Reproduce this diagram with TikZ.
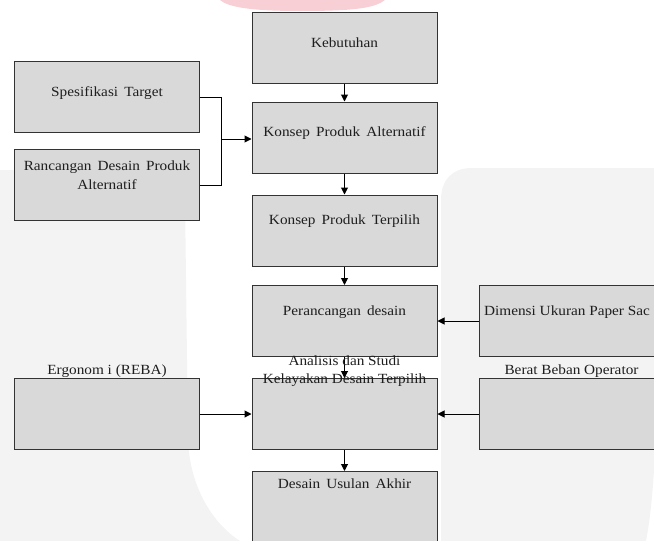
\documentclass[tikz,border=0pt]{standalone}
\usepackage{fontspec}
\setmainfont[FakeStretch=1.09]{Liberation Serif}
\newfontfamily\boxfont[FakeStretch=1.09,WordSpace=1.6]{Liberation Serif}
\usetikzlibrary{arrows.meta}
\definecolor{boxfill}{HTML}{D9D9D9}
\definecolor{boxline}{HTML}{333333}
\definecolor{wmgray}{HTML}{F3F3F3}
\definecolor{wmpink}{HTML}{F8CFD4}
\definecolor{txtcol}{HTML}{1E1E1E}
\begin{document}
\begin{tikzpicture}[x=1pt,y=-1pt,
  box/.style={draw=boxline,fill=boxfill,line width=1pt,minimum width=185pt,minimum height=71pt,inner sep=0pt},
  txt/.style={text=txtcol,font=\fontsize{14pt}{18.3pt}\selectfont,inner sep=0pt,anchor=base,align=center},
  btxt/.style={txt,font=\fontsize{14pt}{18.3pt}\boxfont},
  link/.style={draw=black,line width=1pt,-{Triangle[length=7pt,width=7pt]}},
  seg/.style={draw=black,line width=1pt}]
\clip (0,0) rectangle (654,541);
\useasboundingbox (0,0) rectangle (654,541);
% watermark
\fill[wmgray] (0,170) -- (160,170) .. controls (178,170) and (185,180) .. (185,198) -- (188,440) .. controls (190,490) and (215,525) .. (240,541) -- (0,541) -- cycle;
\fill[wmgray] (441,541) -- (441,200) .. controls (441,180) and (452,168) .. (472,168) -- (654,168) -- (654,470) .. controls (652,500) and (650,520) .. (646,541) -- cycle;
\fill[wmpink] (220,0) -- (385,0) .. controls (375,8) and (355,11) .. (300,11) .. controls (250,11) and (228,7) .. (220,0) -- cycle;
% boxes
\node[box] (keb) at (344.5,47.5) {};
\node[box] (alt) at (344.5,137.5) {};
\node[box] (ter) at (344.5,230.5) {};
\node[box] (per) at (344.5,321) {};
\node[box] (ana) at (344.5,414) {};
\node[box] (usu) at (344.5,507) {};
\node[box] (spe) at (107,97) {};
\node[box] (ran) at (107,185) {};
\node[box] (erg) at (107,414) {};
\node[box] (dim) at (571.5,321) {};
\node[box] (ber) at (571.5,414) {};
% texts
\node[btxt] (kebt) at (344.5,47.7) {Kebutuhan};
\node[btxt] (altt) at (344.5,136.7) {Konsep Produk Alternatif};
\node[btxt] (tert) at (344.5,224.3) {Konsep Produk Terpilih};
\node[btxt] (pert) at (344.5,315) {Perancangan desain};
\node[btxt] (usut) at (344.5,488.3) {Desain Usulan Akhir};
\node[btxt] (spet) at (107,96.7) {Spesifikasi Target};
\node[btxt] (rant) at (107,189) {Rancangan Desain Produk\\Alternatif};
\node[txt] (ergt) at (107,374.3) {Ergonom i (REBA)};
\node[txt,anchor=base west] (dimt) at (484,315) {Dimensi Ukuran Paper Sac};
\node[txt] (bert) at (571.5,374.3) {Berat Beban Operator};
% connectors
\coordinate (j) at (221,139);
\draw[link] (keb) -- (alt);
\draw[link] (alt) -- (ter);
\draw[link] (ter) -- (per);
\draw[link] (per) -- (ana);
\draw[link] (ana) -- (usu);
\draw[seg] (spe.east) -| (j);
\draw[seg] (ran.east) -| (j);
\draw[link] (j) -- (j -| alt.west);
\draw[link] (dim.west) -- (per.east);
\draw[link] (erg.east) -- (ana.west);
\draw[link] (ber.west) -- (ana.east);
% text over the box edge
\node[txt] (anat) at (344.5,383.3) {Analisis dan Studi\\Kelayakan Desain Terpilih};
\end{tikzpicture}
\end{document}
